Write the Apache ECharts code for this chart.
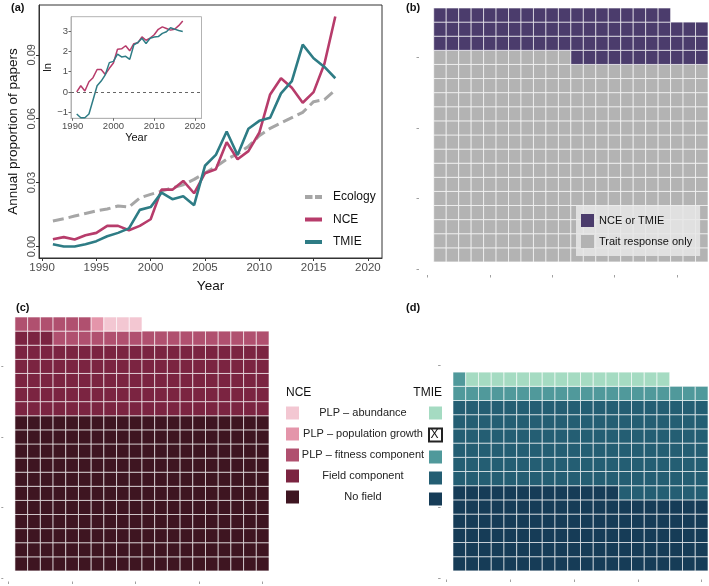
<!DOCTYPE html>
<html lang="en">
<head>
  <meta charset="UTF-8">
  <title>NCE and TMIE papers</title>
  <script src="https://cdn.jsdelivr.net/npm/echarts@6.0.0/dist/echarts.min.js"></script>
  <style>
    html, body { margin: 0; padding: 0; background: #fff; }
    #chart { width: 709px; height: 586px; }
  </style>
</head>
<body>
  <div id="chart"></div>
  <script>
    // (a) annual proportion of papers
    var years = [1991, 1992, 1993, 1994, 1995, 1996, 1997, 1998, 1999, 2000, 2001, 2002, 2003, 2004,
                 2005, 2006, 2007, 2008, 2009, 2010, 2011, 2012, 2013, 2014, 2015, 2016, 2017];
    var ecology = [0.012, 0.013, 0.0143, 0.0155, 0.0167, 0.0176, 0.019, 0.0185, 0.0228, 0.0245, 0.026, 0.0275, 0.029, 0.0315,
                   0.0345, 0.0375, 0.041, 0.0435, 0.047, 0.052, 0.0555, 0.058, 0.0605, 0.063, 0.068, 0.069, 0.0735];
    var nce = [0.0034, 0.0044, 0.0033, 0.0053, 0.0064, 0.0097, 0.0097, 0.0076, 0.0097, 0.0128, 0.0267, 0.0267, 0.0308, 0.025,
               0.0344, 0.0363, 0.049, 0.041, 0.0448, 0.0534, 0.0714, 0.079, 0.0745, 0.0675, 0.0725, 0.0858, 0.108];
    var tmie = [0.0011, 0.0, 0.0, 0.0011, 0.0025, 0.0048, 0.0064, 0.0085, 0.0172, 0.0185, 0.0253, 0.0222, 0.0236, 0.0194,
                0.0379, 0.043, 0.054, 0.043, 0.0553, 0.059, 0.0605, 0.0719, 0.0777, 0.0948, 0.0884, 0.0843, 0.079];
    // inset, ln scale
    var nceLn = [0.0, 0.3, 0.04, 0.5, 0.7, 1.1, 1.1, 0.86, 1.16, 1.42, 2.1, 2.12, 2.27, 2.02,
                 2.37, 2.42, 2.71, 2.54, 2.65, 2.81, 3.08, 3.2, 3.12, 3.04, 3.08, 3.26, 3.49];
    var tmieLn = [-1.09, -1.27, -1.27, -1.09, -0.4, 0.3, 0.53, 0.84, 1.44, 1.5, 1.86, 1.72, 1.75, 1.6,
                  2.31, 2.43, 2.64, 2.38, 2.64, 2.7, 2.72, 2.88, 2.96, 3.16, 3.09, 3.02, 2.97];
    var yearTicks = [1990, 1995, 2000, 2005, 2010, 2015, 2020];
    var propTicks = [0, 0.03, 0.06, 0.09];
    var insetYearTicks = [1990, 2000, 2010, 2020];
    var lnTicks = [-1, 0, 1, 2, 3];

    // (b)-(d) waffle counts, filled row by row from the bottom left
    var waffleTicks = [0, 5, 10, 15, 20];
    var bNames = ['Trait response only', 'NCE or TMIE'];
    var bCounts = [319, 74];
    var cdNames = ['No field', 'Field component', 'PLP – fitness component', 'PLP – population growth', 'PLP – abundance'];
    var nceCounts = [220, 103, 23, 1, 3];
    var tmieCounts = [113, 127, 21, 0, 16];

    var bColors = ['#b3b3b3', '#4b3c6c'];
    var nceColors = ['#3e1521', '#7b2441', '#b0506f', '#e495aa', '#f3c7d2'];
    var tmieColors = ['#163c57', '#245e73', '#50999b', '#ffffff', '#a5dbc2'];
    var font = '"Liberation Sans", Arial, sans-serif';

    function zip(xs, ys) {
      return xs.map(function (x, i) { return [x, ys[i]]; });
    }

    function waffle(counts, ncol) {
      var out = [], k = 0;
      counts.forEach(function (n) {
        var cells = [];
        for (var i = 0; i < n; i++, k++) {
          cells.push([k % ncol + 1, Math.floor(k / ncol) + 1]);
        }
        out.push(cells);
      });
      return out;
    }

    function renderCell(params, api) {
      var p0 = api.coord([api.value(0) - 0.5, api.value(1) + 0.5]);
      var p1 = api.coord([api.value(0) + 0.5, api.value(1) - 0.5]);
      return {
        type: 'rect',
        shape: { x: p0[0], y: p0[1], width: p1[0] - p0[0], height: p1[1] - p0[1] },
        style: { fill: api.visual('color'), stroke: 'rgba(255,255,255,0.75)', lineWidth: 0.8 }
      };
    }

    function waffleSeries(names, counts, ncol, colors, idx, prefix) {
      var cells = waffle(counts, ncol);
      return names.map(function (n, i) {
        var style = { color: colors[i] };
        if (counts[i] === 0) { style.borderColor = '#222'; style.borderWidth = 1; }
        return {
          name: (prefix || '') + n, type: 'custom', silent: true,
          xAxisIndex: idx, yAxisIndex: idx,
          renderItem: renderCell, encode: { x: 0, y: 1 },
          itemStyle: style, data: cells[i]
        };
      });
    }

    function waffleAxis(grid, max, offset, len) {
      return {
        type: 'value', gridIndex: grid, min: 0, max: max, offset: offset,
        axisLine: { show: false, onZero: false }, splitLine: { show: false }, axisLabel: { show: false },
        axisTick: { show: true, length: len, customValues: waffleTicks.filter(function (t) { return t <= max; }),
                    lineStyle: { color: '#a0a0a0', width: 1 } }
      };
    }

    var chart = echarts.init(document.getElementById('chart'));
    var series = [
      { name: 'Ecology', type: 'line', xAxisIndex: 0, yAxisIndex: 0, symbol: 'none', data: zip(years, ecology),
        lineStyle: { color: '#a6a6a6', width: 3, type: [11, 5] }, itemStyle: { color: '#a6a6a6' } },
      { name: 'NCE', type: 'line', xAxisIndex: 0, yAxisIndex: 0, symbol: 'none', data: zip(years, nce),
        lineStyle: { color: '#b73c6b', width: 2.6 }, itemStyle: { color: '#b73c6b' } },
      { name: 'TMIE', type: 'line', xAxisIndex: 0, yAxisIndex: 0, symbol: 'none', data: zip(years, tmie),
        lineStyle: { color: '#2e7c85', width: 2.6 }, itemStyle: { color: '#2e7c85' } },
      { name: 'NCE ln', type: 'line', xAxisIndex: 1, yAxisIndex: 1, symbol: 'none', data: zip(years, nceLn),
        lineStyle: { color: '#b73c6b', width: 1.5 },
        markLine: { silent: true, symbol: 'none', label: { show: false },
                    lineStyle: { color: '#666', width: 1, type: [3, 3] }, data: [{ yAxis: 0 }] } },
      { name: 'TMIE ln', type: 'line', xAxisIndex: 1, yAxisIndex: 1, symbol: 'none', data: zip(years, tmieLn),
        lineStyle: { color: '#2e7c85', width: 1.5 } }
    ];
    series = series
      .concat(waffleSeries(bNames, bCounts, 22, bColors, 2))
      .concat(waffleSeries(cdNames, nceCounts, 20, nceColors, 3))
      .concat(waffleSeries(cdNames, tmieCounts, 20, tmieColors, 4, 'TMIE: '));

    var tickLabel = { color: '#4d4d4d', fontFamily: font };
    // legend keys: a bar (or two dashes) plus an almost invisible dot that keeps a gap before the text
    var lineKey = 'path://M0,0H17V4H0Z M22.9,2H23V2.1H22.9Z';
    var dashKey = 'path://M0,0H7.5V4H0Z M10,0H17V4H10Z M22.9,2H23V2.1H22.9Z';
    var yearFmt = function (v) { return String(v); };

    chart.setOption({
      animation: false,
      textStyle: { fontFamily: font },
      title: [
        { text: '(a)', left: 11, top: 2, padding: 0, textStyle: { fontSize: 11, fontWeight: 'bold', color: '#111', fontFamily: font } },
        { text: '(b)', left: 406, top: 2, padding: 0, textStyle: { fontSize: 11, fontWeight: 'bold', color: '#111', fontFamily: font } },
        { text: '(c)', left: 16, top: 302, padding: 0, textStyle: { fontSize: 11, fontWeight: 'bold', color: '#111', fontFamily: font } },
        { text: '(d)', left: 406, top: 302, padding: 0, textStyle: { fontSize: 11, fontWeight: 'bold', color: '#111', fontFamily: font } },
        { text: 'NCE', left: 286, top: 387, padding: 0, textStyle: { fontSize: 12, fontWeight: 'normal', color: '#111', fontFamily: font } },
        { text: 'TMIE', right: 267, top: 387, padding: 0, textStyle: { fontSize: 12, fontWeight: 'normal', color: '#111', fontFamily: font } }
      ],
      grid: [
        { left: 39, top: 5, width: 343, height: 253, show: true, borderColor: '#333', borderWidth: 1 },
        { left: 71, top: 16.7, width: 130.5, height: 101.6, show: true, borderColor: '#b3b3b3', borderWidth: 1, backgroundColor: '#fff' },
        { left: 427.5, top: 8, width: 280.5, height: 261 },
        { left: 8.6, top: 317, width: 260.4, height: 261 },
        { left: 446.6, top: 357.9, width: 261.4, height: 220.1 }
      ],
      xAxis: [
        { type: 'value', gridIndex: 0, min: 1989.72, max: 2021.3,
          name: 'Year', nameLocation: 'middle', nameGap: 21, nameTextStyle: { fontSize: 13.5, color: '#111' },
          axisLine: { show: true, onZero: false, lineStyle: { color: '#333' } }, splitLine: { show: false },
          axisTick: { length: 3, customValues: yearTicks, lineStyle: { color: '#333' } },
          axisLabel: Object.assign({ fontSize: 11.5, margin: 4, customValues: yearTicks, formatter: yearFmt }, tickLabel) },
        { type: 'value', gridIndex: 1, min: 1989.6, max: 2021.6,
          name: 'Year', nameLocation: 'middle', nameGap: 14, nameTextStyle: { fontSize: 11, color: '#111' },
          axisLine: { show: true, onZero: false, lineStyle: { color: '#b3b3b3' } }, splitLine: { show: false },
          axisTick: { length: 2.5, customValues: insetYearTicks, lineStyle: { color: '#666' } },
          axisLabel: Object.assign({ fontSize: 9.5, margin: 3, customValues: insetYearTicks, formatter: yearFmt }, tickLabel) },
        waffleAxis(2, 22.5, 6, 2.5),
        waffleAxis(3, 20.5, 3.5, 2.5),
        waffleAxis(4, 20.5, 1.5, 2.5)
      ],
      yAxis: [
        { type: 'value', gridIndex: 0, min: -0.0054, max: 0.1134,
          name: 'Annual proportion of papers', nameLocation: 'middle', nameGap: 19,
          nameTextStyle: { fontSize: 13.5, color: '#111' },
          axisLine: { show: true, onZero: false, lineStyle: { color: '#333' } }, splitLine: { show: false },
          axisTick: { length: 3, customValues: propTicks, lineStyle: { color: '#333' } },
          axisLabel: Object.assign({ fontSize: 11, margin: 2, rotate: 90, customValues: propTicks,
                                     formatter: function (v) { return v.toFixed(2); } }, tickLabel) },
        { type: 'value', gridIndex: 1, min: -1.3, max: 3.7,
          name: 'ln', nameLocation: 'middle', nameGap: 12, nameTextStyle: { fontSize: 11, color: '#111' },
          axisLine: { show: true, onZero: false, lineStyle: { color: '#b3b3b3' } }, splitLine: { show: false },
          axisTick: { length: 2.5, customValues: lnTicks, lineStyle: { color: '#666' } },
          axisLabel: Object.assign({ fontSize: 9.5, margin: 3, customValues: lnTicks,
                                     formatter: function (v) { return String(v).replace('-', '\u2212'); } }, tickLabel) },
        waffleAxis(2, 18.5, 8.5, 2.5),
        waffleAxis(3, 18.5, 5.3, 2),
        waffleAxis(4, 15.5, 6, 2.5)
      ],
      legend: [
        { data: [{ name: 'Ecology', icon: dashKey }, { name: 'NCE', icon: lineKey }, { name: 'TMIE', icon: lineKey }],
          orient: 'vertical', left: 305, top: 190, padding: 0,
          itemWidth: 23, itemHeight: 14, itemGap: 8.5, selectedMode: false,
          textStyle: { fontSize: 12, lineHeight: 14, color: '#111' } },
        { data: ['NCE or TMIE', 'Trait response only'], orient: 'vertical', left: 576, top: 206,
          padding: [8, 8, 8, 5], backgroundColor: 'rgba(232,232,232,0.85)', icon: 'rect',
          itemWidth: 13, itemHeight: 13, itemGap: 8, selectedMode: false,
          textStyle: { fontSize: 11, lineHeight: 13, color: '#111' } },
        { data: cdNames.slice().reverse(), orient: 'vertical', left: 286, top: 406.5, padding: 0, icon: 'rect',
          itemWidth: 13, itemHeight: 13, itemGap: 8, selectedMode: false,
          formatter: function (n) { return '{c|' + n + '}'; },
          textStyle: { fontSize: 11, color: '#222',
                       rich: { c: { width: 118, align: 'center', fontSize: 11, lineHeight: 13, color: '#222' } } } },
        { data: cdNames.slice().reverse().map(function (n) { return 'TMIE: ' + n; }),
          orient: 'vertical', left: 428, top: 406.5, padding: 0, icon: 'rect',
          itemWidth: 13, itemHeight: 13, itemGap: 8, selectedMode: false,
          formatter: function () { return ''; } }
      ],
      graphic: [
        { type: 'text', x: 434.5, y: 434.5, z: 100,
          style: { text: 'X', fill: '#111', font: '12px ' + font, align: 'center', verticalAlign: 'middle' } }
      ],
      series: series
    });
  </script>
</body>
</html>
